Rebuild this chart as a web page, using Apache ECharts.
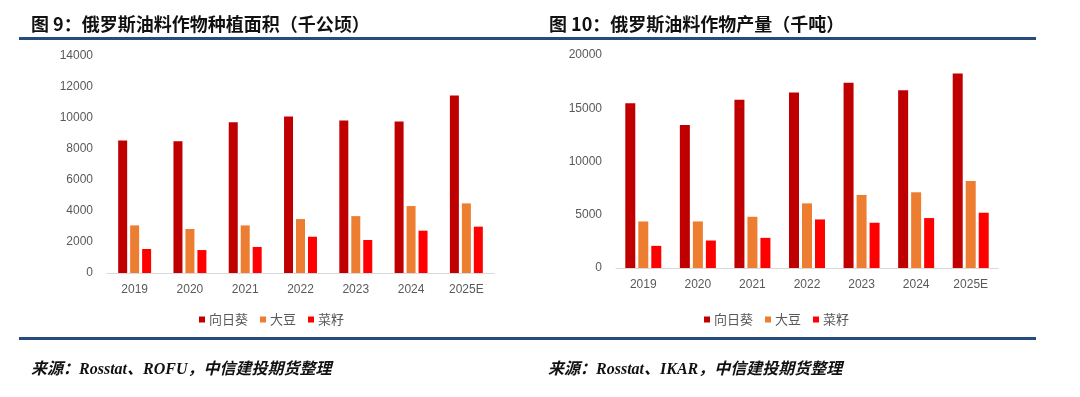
<!DOCTYPE html>
<html>
<head>
<meta charset="utf-8">
<script src="https://cdn.jsdelivr.net/npm/echarts@6/dist/echarts.min.js"></script>
<style>
    html, body {margin: 0; padding: 0; background: #fff;}
    #chart {width: 1080px; height: 397px;}
</style>
</head>
<body>
<div id="chart"></div>
<script>
// 年份
const years = ['2019', '2020', '2021', '2022', '2023', '2024', '2025E']
const seriesNames = ['向日葵', '大豆', '菜籽']
const colors = ['#c00000', '#ed7d31', '#ff0000']

// 图9 种植面积（千公顷）
const areaSunflower = [8550, 8500, 9730, 10090, 9840, 9770, 11450]
const areaSoybean = [3070, 2840, 3070, 3480, 3670, 4320, 4490]
const areaRapeseed = [1550, 1480, 1680, 2340, 2130, 2730, 2990]

// 图10 产量（千吨）
const outSunflower = [15470, 13430, 15790, 16480, 17390, 16700, 18270]
const outSoybean = [4370, 4370, 4810, 6070, 6860, 7110, 8180]
const outRapeseed = [2080, 2580, 2830, 4560, 4250, 4690, 5190]

const blue = '#264b7d'
const labelColor = '#595959'

function buildAxes(gridIndex, max, interval) {
    const xAxis = {
        type: 'category',
        gridIndex: gridIndex,
        data: years,
        axisLine: {lineStyle: {color: '#d9d9d9', width: 1}},
        axisTick: {show: false},
        axisLabel: {color: labelColor, fontSize: 12, fontFamily: 'Liberation Sans', margin: 11}
    }
    const yAxis = {
        type: 'value',
        gridIndex: gridIndex,
        min: 0,
        max: max,
        interval: interval,
        splitLine: {show: false},
        axisLine: {show: false},
        axisTick: {show: false},
        axisLabel: {
            color: labelColor, fontSize: 12, fontFamily: 'Liberation Sans', margin: 14,
            formatter: function (v) {
                return String(v)
            }
        }
    }
    return [xAxis, yAxis]
}

function buildSeries(gridIndex, dataList, barWidth, barGap) {
    return dataList.map(function (data, i) {
        return {
            name: seriesNames[i],
            type: 'bar',
            xAxisIndex: gridIndex,
            yAxisIndex: gridIndex,
            data: data,
            barWidth: barWidth,
            barGap: barGap,
            itemStyle: {color: colors[i]}
        }
    })
}

function buildLegend(left) {
    return {
        data: seriesNames,
        left: left,
        top: 308,
        itemWidth: 6,
        itemHeight: 6,
        itemGap: 12,
        icon: 'rect',
        textStyle: {color: labelColor, fontSize: 13, fontFamily: 'Noto Sans CJK SC', padding: [0, 0, 0, -1]}
    }
}

const axesLeft = buildAxes(0, 14000, 2000)
const axesRight = buildAxes(1, 20000, 5000)

const titleStyle = {color: '#111', fontSize: 18, fontWeight: 'bold', fontFamily: 'Noto Sans CJK SC'}
const sourceStyle = {
    color: '#111', fontSize: 16, fontWeight: 'bold', fontStyle: 'italic',
    fontFamily: '"Liberation Serif", "Noto Sans CJK SC"'
}

const option = {
    animation: false,
    backgroundColor: '#fff',
    title: [
        {text: '图 9：俄罗斯油料作物种植面积（千公顷）', left: 26, top: 10, textStyle: titleStyle},
        {text: '图 10：俄罗斯油料作物产量（千吨）', left: 544, top: 10, textStyle: titleStyle},
        {text: '来源：Rosstat、ROFU，中信建投期货整理', left: 26, top: 357, textStyle: sourceStyle},
        {text: '来源：Rosstat、IKAR，中信建投期货整理', left: 543, top: 357, textStyle: sourceStyle}
    ],
    legend: [buildLegend(194), buildLegend(699)],
    grid: [
        {left: 107, top: 56, width: 387, height: 217},
        {left: 616, top: 55, width: 382, height: 213}
    ],
    xAxis: [axesLeft[0], axesRight[0]],
    yAxis: [axesLeft[1], axesRight[1]],
    series: buildSeries(0, [areaSunflower, areaSoybean, areaRapeseed], 9, '33%')
        .concat(buildSeries(1, [outSunflower, outSoybean, outRapeseed], 10, '30%')),
    graphic: [
        {type: 'rect', shape: {x: 19, y: 37, width: 1017, height: 3}, style: {fill: blue}},
        {type: 'rect', shape: {x: 19, y: 337, width: 1017, height: 3}, style: {fill: blue}}
    ]
}

const myChart = echarts.init(document.getElementById('chart'))
myChart.setOption(option)
</script>
</body>
</html>
